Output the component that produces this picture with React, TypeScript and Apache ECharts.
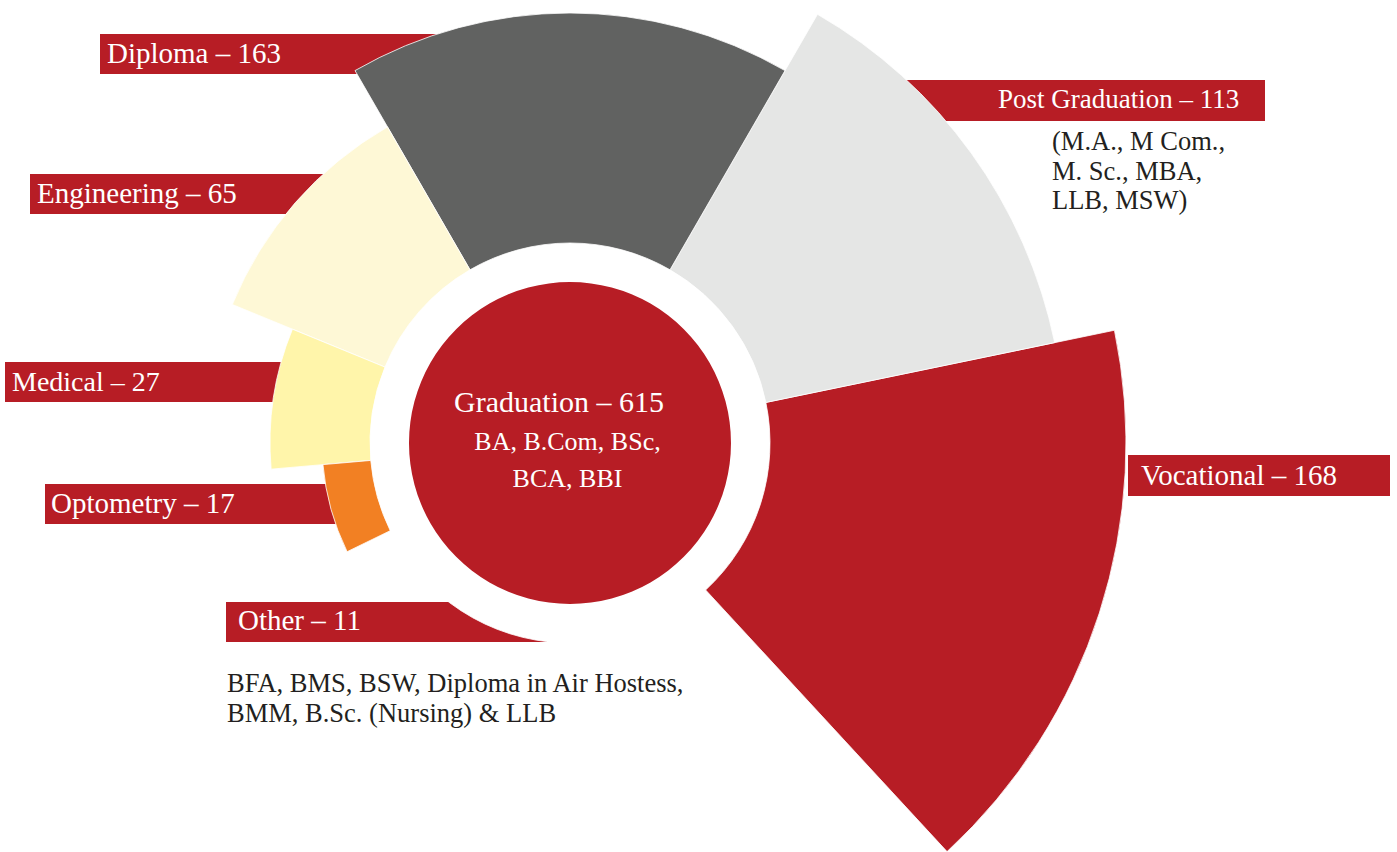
import React, { useEffect, useRef } from 'react';
import * as echarts from 'echarts';

// ---- data ----
const categories = ['Vocational', 'Post Graduation', 'Diploma', 'Engineering', 'Medical', 'Optometry', 'Other'];
const counts = [168, 113, 163, 65, 27, 17, 11];
// angular extent of each sector (degrees, counter-clockwise from 3 o'clock)
const sweepFrom = [-47.3, 11.7, 60, 120, 157.7, 185, 206];
const sweepTo = [11.7, 60, 120, 157.7, 185, 206, 268];
// radial extent of each sector (radius-axis units)
const reachInner = [200, 200, 200, 200, 200, 200, 150];
const reachOuter = [556, 495, 430, 365, 300, 248, 200];

const centerCategory = 'Graduation';
const centerCount = 615;
const gradDetails = ['BA, B.Com, BSc,', 'BCA, BBI'];
const pgDetails = ['(M.A., M Com.,', 'M. Sc., MBA,', 'LLB, MSW)'];
const otherDetails = ['BFA, BMS, BSW, Diploma in Air Hostess,', 'BMM, B.Sc. (Nursing) & LLB'];

// ---- styles / layout ----
const RED = '#b71d25';
const sectorColors = [RED, '#e5e6e5', '#616261', '#fef8d6', '#fff5aa', '#f28023', '#ffffff'];
// label boxes: [x, y, width, height, textX, textY]
const labelBoxes = [
  [1128, 455, 262, 41, 1141, 475],
  [880, 80, 385, 41, 998, 99],
  [100, 34, 345, 40, 107, 53],
  [30, 174, 300, 40, 37, 192.5],
  [5, 362, 290, 40, 12, 381],
  [45, 484, 300, 40, 51, 503],
  [226, 602, 321, 40, 238, 620],
];
const labelSizes = [29, 27, 29, 29, 28, 29, 29];
const FONT = '"Liberation Serif", "Times New Roman", serif';

export default function App() {
  const ref = useRef<HTMLDivElement>(null);

  useEffect(() => {
    const chart = echarts.init(ref.current as HTMLDivElement, null, { renderer: 'svg' });

    const graphics: any[] = [];
    categories.forEach((c, i) => {
      const [x, y, w, h, tx, ty] = labelBoxes[i];
      graphics.push({
        type: 'rect', z: 0, silent: true,
        shape: { x, y, width: w, height: h },
        style: { fill: RED },
      });
      graphics.push({
        type: 'text', z: 10, silent: true,
        style: {
          text: `${c} – ${counts[i]}`, x: tx, y: ty, fill: '#ffffff',
          fontSize: labelSizes[i], fontFamily: FONT, align: 'left', verticalAlign: 'middle',
        },
      });
    });
    // centre texts
    graphics.push({
      type: 'text', z: 10, silent: true,
      style: {
        text: `${centerCategory} – ${centerCount}`, x: 559, y: 401, fill: '#ffffff',
        fontSize: 30, fontFamily: FONT, align: 'center', verticalAlign: 'middle',
      },
    });
    gradDetails.forEach((t, i) => {
      graphics.push({
        type: 'text', z: 10, silent: true,
        style: {
          text: t, x: 567.5, y: 441 + i * 37.7, fill: '#ffffff',
          fontSize: 26, fontFamily: FONT, align: 'center', verticalAlign: 'middle',
        },
      });
    });
    pgDetails.forEach((t, i) => {
      graphics.push({
        type: 'text', z: 10, silent: true,
        style: {
          text: t, x: 1052, y: 141 + i * 29.7, fill: '#231f20',
          fontSize: 26.5, fontFamily: FONT, align: 'left', verticalAlign: 'middle',
        },
      });
    });
    otherDetails.forEach((t, i) => {
      graphics.push({
        type: 'text', z: 10, silent: true,
        style: {
          text: t, x: 227, y: 683 + i * 30, fill: '#231f20',
          fontSize: 26.5, fontFamily: FONT, align: 'left', verticalAlign: 'middle',
        },
      });
    });

    const sectorData = categories.map((c, i) => ({
      name: c,
      value: [sweepFrom[i], sweepTo[i], reachInner[i], reachOuter[i], counts[i]],
    }));

    chart.setOption({
      animation: false,
      backgroundColor: '#ffffff',
      polar: { center: [570, 443], radius: [0, 556] },
      angleAxis: { type: 'value', min: -90, max: 270, startAngle: -90, clockwise: false, show: false },
      radiusAxis: { type: 'value', min: 0, max: 556, show: false },
      series: [
        {
          type: 'custom',
          coordinateSystem: 'polar',
          z: 2,
          silent: true,
          encode: { angle: [0, 1], radius: [2, 3] },
          data: sectorData,
          renderItem: (params: any, api: any) => {
            const a0 = api.value(0);
            const a1 = api.value(1);
            const r0 = api.value(2);
            const r1 = api.value(3);
            const pIn = api.coord([r0, a0]);
            const pOut = api.coord([r1, a1]);
            const cs = params.coordSys;
            return {
              type: 'sector',
              shape: {
                cx: cs.cx, cy: cs.cy, r0: pIn[2], r: pOut[2],
                startAngle: -pOut[3], endAngle: -pIn[3], clockwise: true,
              },
              style: { fill: sectorColors[params.dataIndex], stroke: '#ffffff', lineWidth: 0.8 },
            };
          },
        },
        {
          type: 'pie',
          z: 3,
          silent: true,
          center: [570, 443],
          radius: [0, 161],
          label: { show: false },
          labelLine: { show: false },
          itemStyle: { color: RED, borderWidth: 0 },
          data: [{ name: centerCategory, value: centerCount }],
        },
      ],
      graphic: { elements: graphics },
    });

    return () => chart.dispose();
  }, []);

  return (
    <div
      ref={ref}
      style={{ position: 'fixed', left: 0, top: 0, width: 1397, height: 852, background: '#fff' }}
    />
  );
}
